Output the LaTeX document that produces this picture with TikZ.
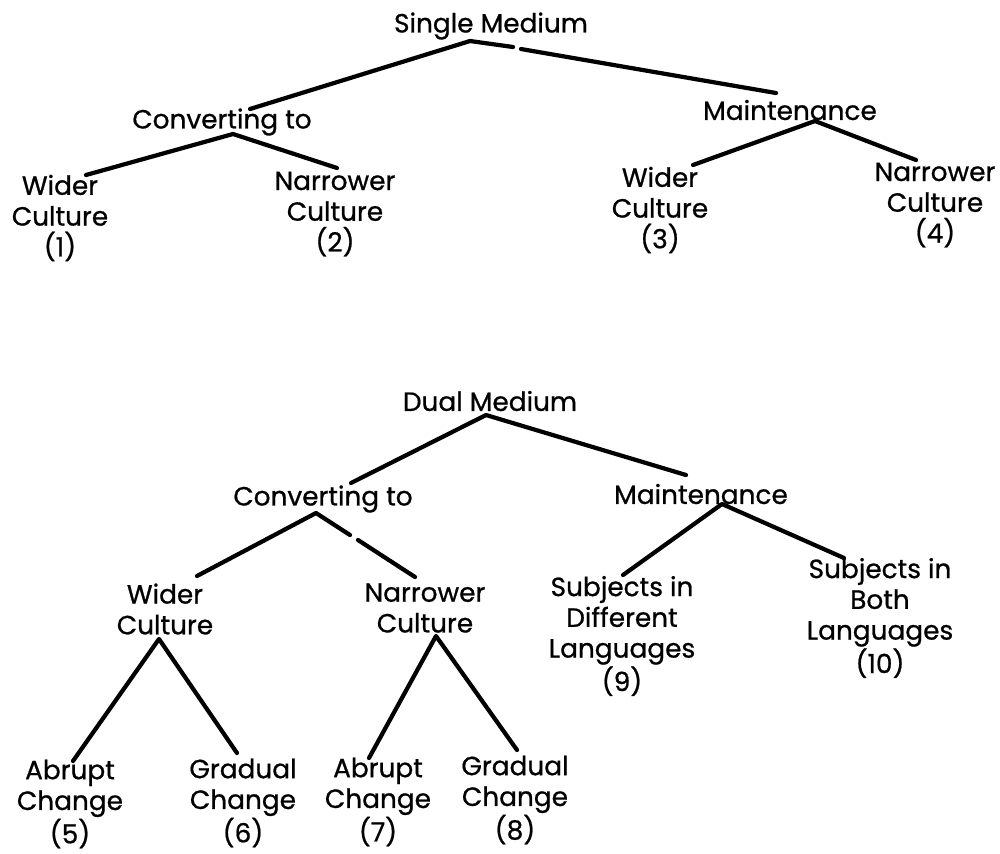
\documentclass[tikz,border=0pt]{standalone}
\usepackage{fontspec}
\setmainfont{Poppins}
\newfontfamily\lblfont{Poppins}[FakeBold=0.8]
\usetikzlibrary{calc}
\begin{document}
\begin{tikzpicture}[x=0.02cm,y=-0.02cm,
  lbl/.style={font=\lblfont\fontsize{15}{17.5}\selectfont, align=center, inner sep=0pt},
  edge/.style={line width=2.4pt, line cap=round, line join=round}]
\useasboundingbox (0,0) rectangle (1000,853);
% ---------- Single medium tree ----------
\node[lbl] (sm)  at (491,26)  {Single Medium};
\node[lbl] (cv1) at (222,122) {Converting to};
\node[lbl] (mt1) at (790,110) {Maintenance};
\node[lbl] (w1)  at (60,218)  {Wider\\Culture\\(1)};
\node[lbl] (n2)  at (335,214) {Narrower\\Culture\\(2)};
\node[lbl] (w3)  at (660,210) {Wider\\Culture\\(3)};
\node[lbl] (n4)  at (935,205) {Narrower\\Culture\\(4)};
\coordinate (sm-b)  at (470,41);
\coordinate (sm-g1) at (513,47);
\coordinate (sm-g2) at (521,49);
\coordinate (cv1-t) at (250,109);
\coordinate (mt1-t) at (776,93);
\coordinate (cv1-b) at (233,134);
\coordinate (w1-t)  at (86,175);
\coordinate (n2-t)  at (337,168);
\coordinate (mt1-b) at (815,121);
\coordinate (w3-t)  at (693,165);
\coordinate (n4-t)  at (916,160);
\draw[edge] (sm-b) -- (cv1-t);
\draw[edge] (mt1-t) -- (sm-g2);
\draw[edge] (sm-g1) -- (sm-b);
\draw[edge] (w1-t) -- (cv1-b) -- (n2-t);
\draw[edge] (w3-t) -- (mt1-b) -- (n4-t);
% ---------- Dual medium tree ----------
\node[lbl] (dm)  at (490,401) {Dual Medium};
\node[lbl] (cv2) at (323,499) {Converting to};
\node[lbl] (mt2) at (701,494) {Maintenance};
\node[lbl] (w)   at (165,609) {Wider\\Culture};
\node[lbl] (n)   at (425,608) {Narrower\\Culture};
\node[lbl] (s9)  at (622,636) {Subjects in\\Different\\Languages\\(9)};
\node[lbl] (s10) at (880,618) {Subjects in\\Both\\Languages\\(10)};
\node[lbl] (a5)  at (70,804)  {Abrupt\\Change\\(5)};
\node[lbl] (g6)  at (243,803) {Gradual\\Change\\(6)};
\node[lbl] (a7)  at (378,802) {Abrupt\\Change\\(7)};
\node[lbl] (g8)  at (515,800) {Gradual\\Change\\(8)};
\coordinate (dm-b)  at (486,415);
\coordinate (cv2-t) at (351,483);
\coordinate (mt2-t) at (686,475);
\coordinate (cv2-b) at (316,513);
\coordinate (cv2-g1) at (350,535);
\coordinate (cv2-g2) at (358,540);
\coordinate (w-t)   at (197,576);
\coordinate (n-t)   at (415,577);
\coordinate (mt2-b) at (722,504);
\coordinate (s9-t)  at (623,575);
\coordinate (s10-t) at (844,558);
\coordinate (w-b)   at (159,639);
\coordinate (a5-t)  at (73,761);
\coordinate (g6-t)  at (237,753);
\coordinate (n-b)   at (436,636);
\coordinate (a7-t)  at (369,758);
\coordinate (g8-t)  at (517,750);
\draw[edge] (cv2-t) -- (dm-b) -- (mt2-t);
\draw[edge] (w-t) -- (cv2-b) -- (cv2-g1);
\draw[edge] (cv2-g2) -- (n-t);
\draw[edge] (s9-t) -- (mt2-b) -- (s10-t);
\draw[edge] (a5-t) -- (w-b) -- (g6-t);
\draw[edge] (a7-t) -- (n-b) -- (g8-t);
\end{tikzpicture}
\end{document}
